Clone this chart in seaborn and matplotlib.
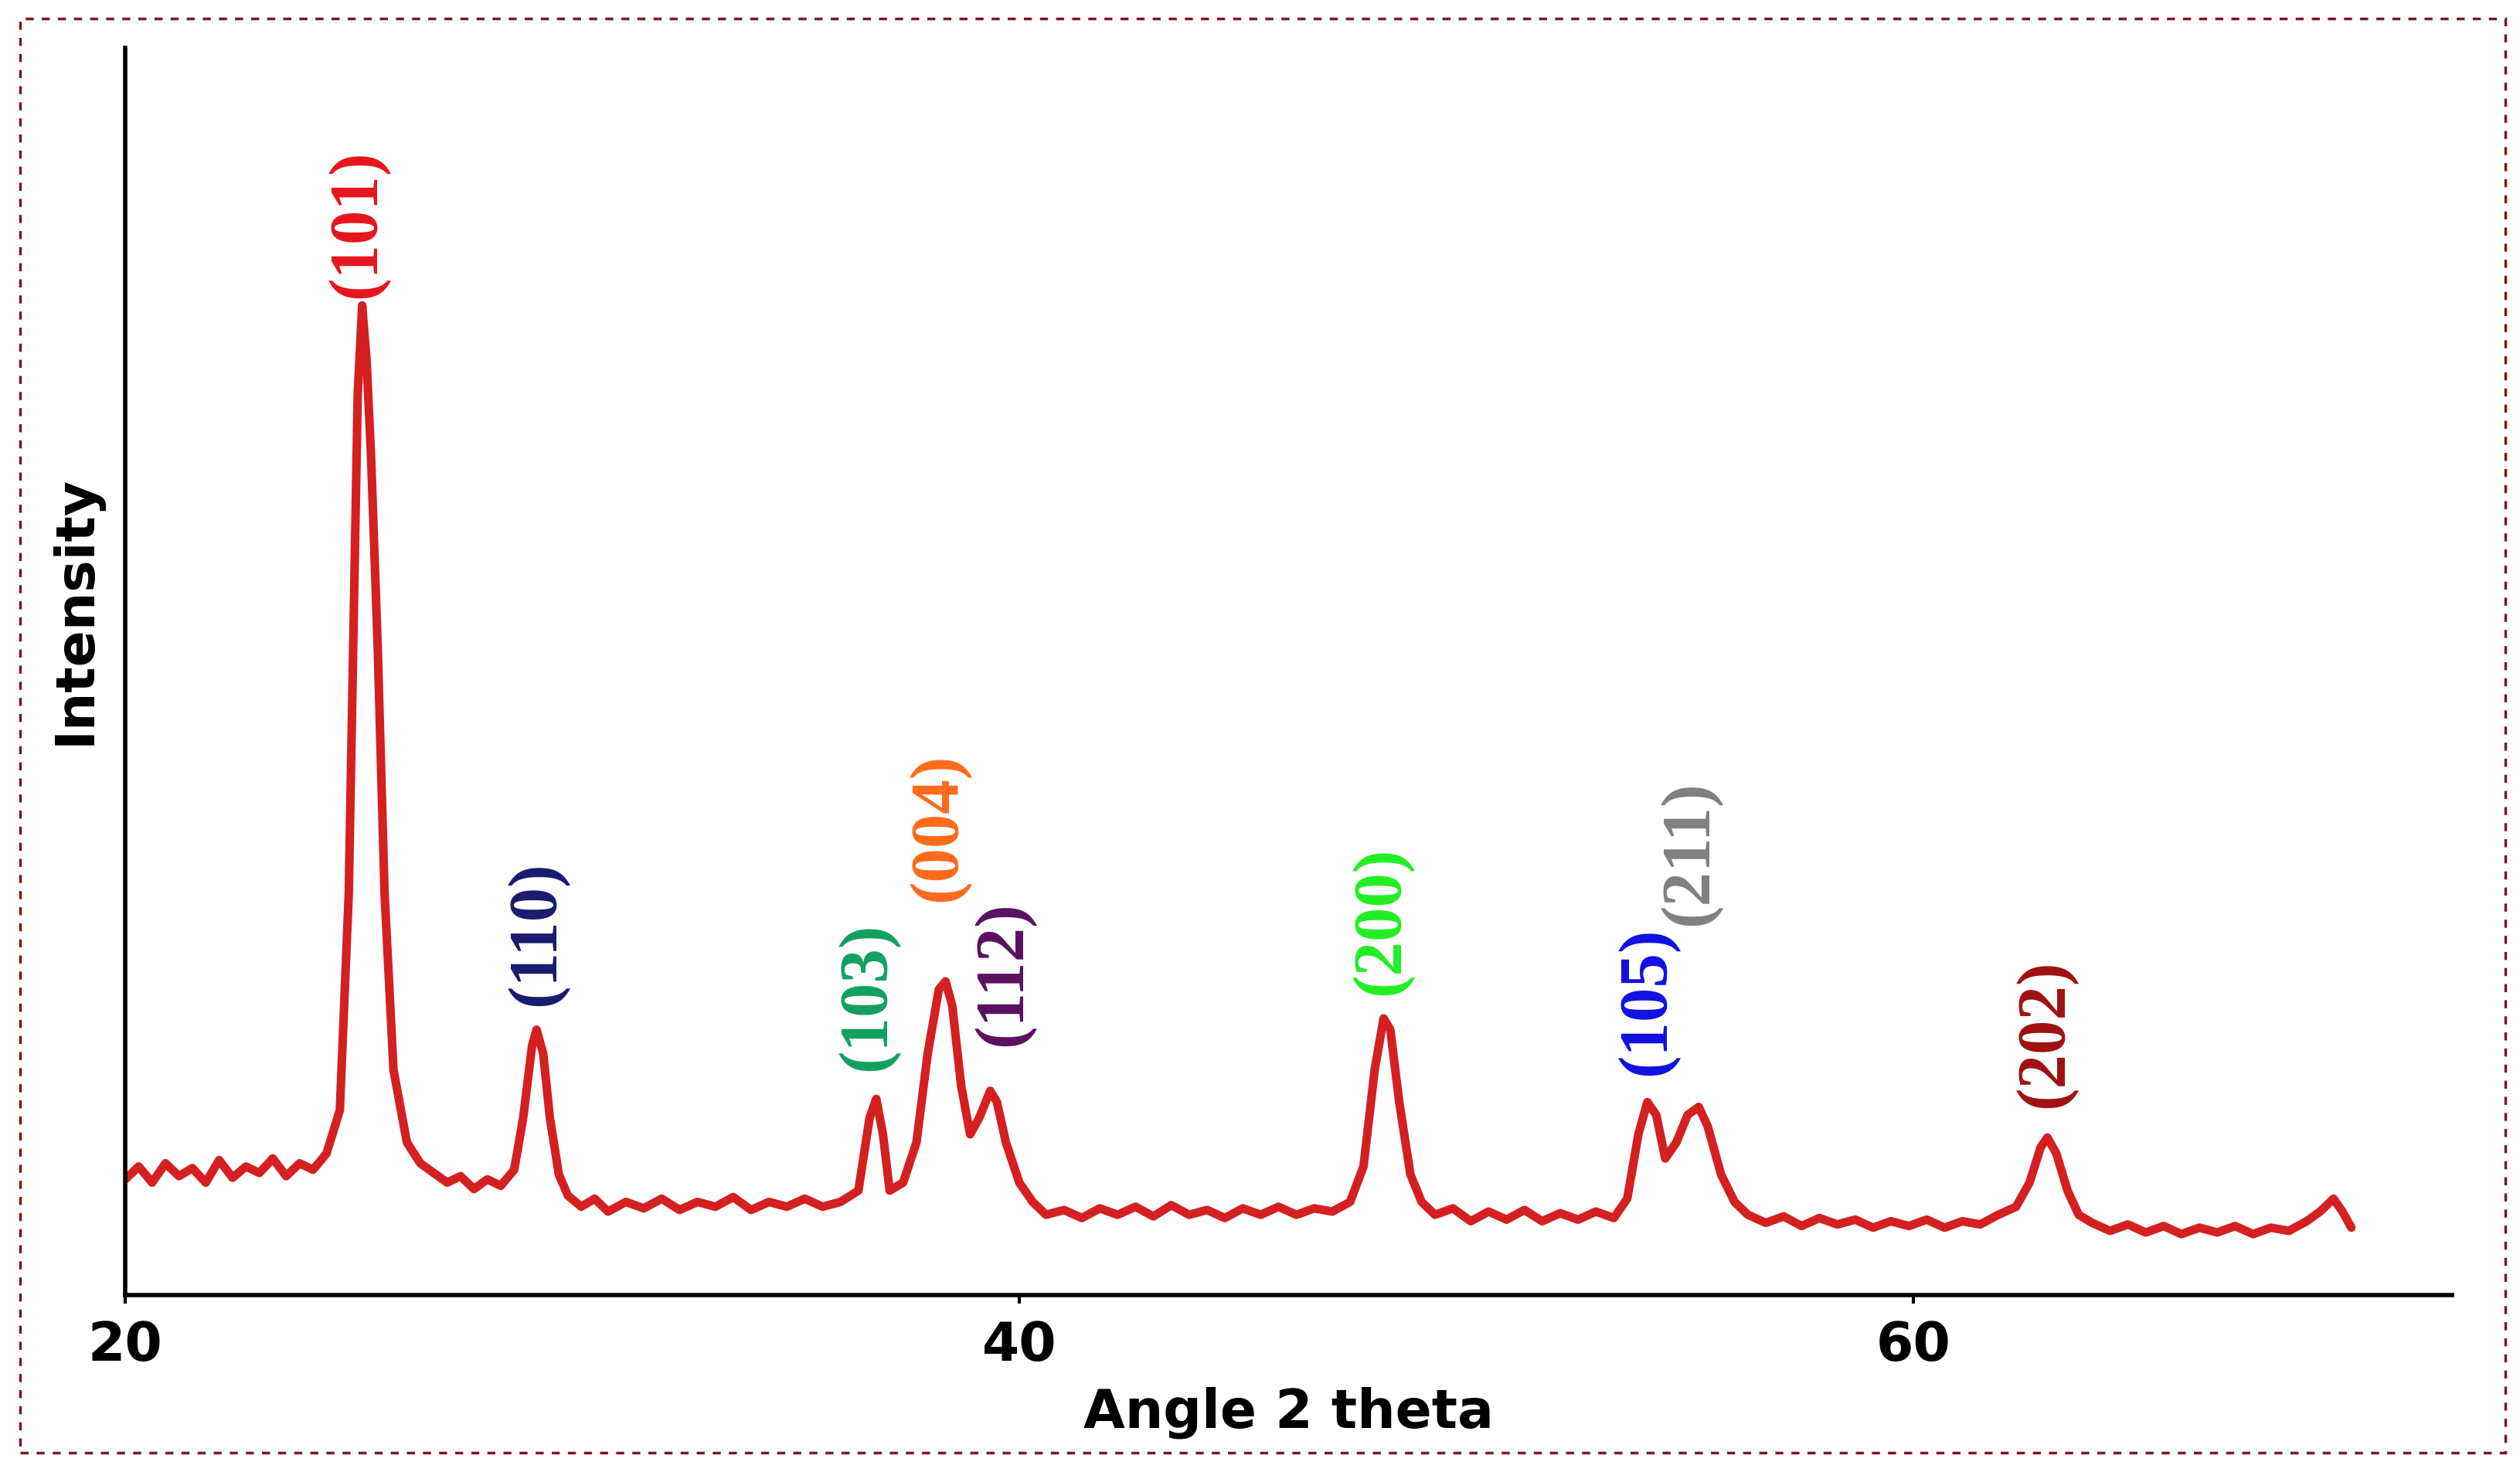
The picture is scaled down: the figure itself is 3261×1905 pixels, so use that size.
import matplotlib
matplotlib.use("Agg")
import matplotlib.pyplot as plt
import matplotlib.patches as mpatches
import seaborn as sns
import pandas as pd

# XRD pattern (angle 2 theta, intensity in arbitrary units)
angle = [20.0, 20.3, 20.6, 20.9, 21.2, 21.5, 21.8, 22.1, 22.4, 22.7, 23.0, 23.3, 23.6, 23.9, 24.2, 24.5,
         24.8, 25.0, 25.2, 25.3, 25.4, 25.5, 25.65, 25.8, 26.0, 26.3, 26.6, 26.9, 27.2, 27.5, 27.8, 28.1,
         28.4, 28.7, 28.9, 29.1, 29.2, 29.35, 29.5, 29.7, 29.9, 30.2, 30.5, 30.8, 31.2, 31.6, 32.0, 32.4,
         32.8, 33.2, 33.6, 34.0, 34.4, 34.8, 35.2, 35.6, 36.0, 36.4, 36.65, 36.8, 36.95, 37.1, 37.4, 37.7,
         37.95, 38.2, 38.35, 38.5, 38.7, 38.9, 39.1, 39.35, 39.5, 39.7, 40.0, 40.3, 40.6, 41.0, 41.4, 41.8,
         42.2, 42.6, 43.0, 43.4, 43.8, 44.2, 44.6, 45.0, 45.4, 45.8, 46.2, 46.6, 47.0, 47.4, 47.7, 47.95,
         48.15, 48.3, 48.5, 48.75, 49.0, 49.3, 49.7, 50.1, 50.5, 50.9, 51.3, 51.7, 52.1, 52.5, 52.9, 53.3,
         53.6, 53.85, 54.05, 54.25, 54.45, 54.7, 54.95, 55.2, 55.4, 55.7, 56.0, 56.3, 56.7, 57.1, 57.5, 57.9,
         58.3, 58.7, 59.1, 59.5, 59.9, 60.3, 60.7, 61.1, 61.5, 61.9, 62.3, 62.6, 62.85, 63.0, 63.2, 63.45,
         63.7, 64.0, 64.4, 64.8, 65.2, 65.6, 66.0, 66.4, 66.8, 67.2, 67.6, 68.0, 68.4, 68.8, 69.1, 69.4,
         69.6, 69.8]
intensity = [72, 80, 70, 82, 74, 79, 70, 84, 73, 80, 76, 85, 74, 82, 78, 88,
             115, 250, 560, 615, 580, 520, 400, 250, 140, 95, 82, 76, 70, 74, 66, 72,
             68, 78, 110, 155, 165, 150, 110, 75, 62, 55, 60, 52, 58, 54, 60, 53,
             58, 55, 61, 53, 58, 55, 60, 55, 58, 65, 110, 122, 100, 65, 70, 95,
             150, 190, 195, 180, 130, 100, 110, 127, 120, 95, 70, 58, 50, 53, 48, 54,
             50, 55, 49, 56, 50, 53, 48, 54, 50, 55, 50, 54, 52, 58, 80, 140,
             172, 165, 120, 75, 58, 50, 54, 46, 52, 47, 53, 46, 51, 47, 52, 48,
             60, 100, 120, 112, 85, 95, 112, 117, 105, 75, 58, 50, 45, 49, 43, 48,
             44, 47, 42, 46, 43, 47, 42, 46, 44, 50, 55, 70, 92, 98, 88, 65,
             50, 45, 40, 44, 39, 43, 38, 42, 39, 43, 38, 42, 40, 46, 52, 60,
             52, 42]

# Miller index labels
hkl_labels = ["(101)", "(110)", "(103)", "(004)", "(112)", "(200)", "(105)", "(211)", "(202)"]
hkl_angle = [25.2, 29.2, 36.6, 38.2, 39.65, 48.1, 54.05, 55.0, 62.95]
hkl_height = [620, 180, 140, 245, 155, 187, 137, 230, 117]
hkl_colors = ["#e8141e", "#1a1a6e", "#10a060", "#ff6a1a", "#5a1060", "#22ee22", "#1010e0", "#808080", "#a01010"]

sns.set_style("ticks")
plt.rcParams["font.family"] = ["DejaVu Sans"]
plt.rcParams["text.color"] = "black"
plt.rcParams["axes.labelcolor"] = "black"
plt.rcParams["xtick.color"] = "black"

df = pd.DataFrame({"angle": angle, "intensity": intensity})

fig = plt.figure(figsize=(32.62, 19.06), dpi=100)
ax = fig.add_axes([0.0497, 0.12, 0.923, 0.847])
sns.lineplot(data=df, x="angle", y="intensity", estimator=None, sort=False,
             color="#d42020", linewidth=8, ax=ax)

for lab, xa, ya, c in zip(hkl_labels, hkl_angle, hkl_height, hkl_colors):
    ax.text(xa, ya, lab, rotation=90, ha="center", va="bottom", color=c,
            fontsize=64, fontweight="bold", family=["Liberation Serif"])

ax.set_xlim(20, 72.05)
ax.set_ylim(0, 775)
ax.set_xticks([20, 40, 60])
ax.set_yticks([])
ax.tick_params(axis="x", labelsize=50, width=3, length=8, pad=14)
for t in ax.get_xticklabels():
    t.set_fontweight("bold")
ax.set_xlabel("Angle 2 theta", fontsize=50, fontweight="bold", labelpad=14)
ax.set_ylabel("Intensity", fontsize=50, fontweight="bold")
ax.yaxis.set_label_coords(-0.01, 0.55)
sns.despine(ax=ax)
for s in ["left", "bottom"]:
    ax.spines[s].set_linewidth(4)
    ax.spines[s].set_color("black")

# dotted frame around the whole figure
fig.patches.append(mpatches.Rectangle((0.008, 0.013), 0.986, 0.974, transform=fig.transFigure,
                                      fill=False, edgecolor="#7a1a1a", linewidth=2.5,
                                      linestyle=(0, (3, 3))))

plt.savefig("out.png", dpi=100)
plt.close()
